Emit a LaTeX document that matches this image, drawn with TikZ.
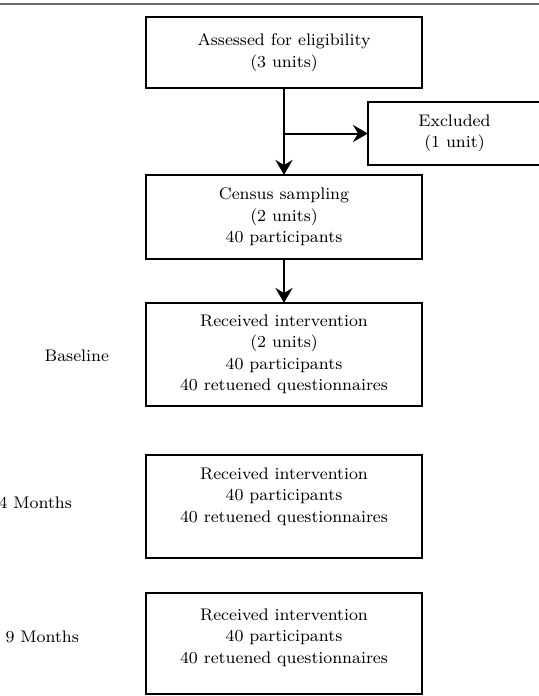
\documentclass[tikz,border=0pt]{standalone}
\usetikzlibrary{arrows.meta, positioning}
\definecolor{rulegray}{RGB}{110,110,110}

\begin{document}
\begin{tikzpicture}[
  x=0.5pt, y=0.5pt,
  every node/.style={font=\fontsize{8.4}{10.75}\selectfont},
  flowbox/.style={draw,line width=1.3pt,minimum width=138pt,
    align=center,outer sep=0pt},
  arr/.style={-{Stealth[length=7.5pt,width=8.5pt,inset=2.5pt]},line width=1pt}
]

\useasboundingbox (0,0) rectangle (539,-696);

% rule on top
\draw[rulegray,line width=0.75pt] (0,-4) -- (539,-4);

\node[flowbox,minimum height=35.5pt] (assess) at (284,-52.5)
  {Assessed for eligibility\\(3 units)};
\node[flowbox,minimum width=86.5pt,minimum height=31.5pt] (excl) at (454.5,-133.5)
  {Excluded\\(1 unit)};

\node[flowbox,minimum height=42pt,below=43.5pt of assess] (census)
  {Census sampling\\(2 units)\\40 participants};
\node[flowbox,minimum height=51.5pt,below=22pt of census] (base)
  {Received intervention\\(2 units)\\40 participants\\40 retuened questionnaires};
\node[flowbox,minimum height=51.5pt,below=24.5pt of base,text depth=11.5pt] (month4)
  {Received intervention\\40 participants\\40 retuened questionnaires};
\node[flowbox,minimum height=50.5pt,below=17.5pt of month4,text depth=7.5pt] (month9)
  {Received intervention\\40 participants\\40 retuened questionnaires};

% time points
\node[left=15pt of base,yshift=-0.75pt]   (tbase)  {Baseline};
\node[left=33.5pt of month4,yshift=1.75pt] (tfour)  {4 Months};
\node[left=30pt of month9,yshift=3.25pt]  (tnine)  {9 Months};

% flow
\draw[arr] (assess.south) -- (census.north);
\draw[arr] (assess.south |- excl.west) -- (excl.west);
\draw[arr] (census.south) -- (base.north);

\end{tikzpicture}
\end{document}
